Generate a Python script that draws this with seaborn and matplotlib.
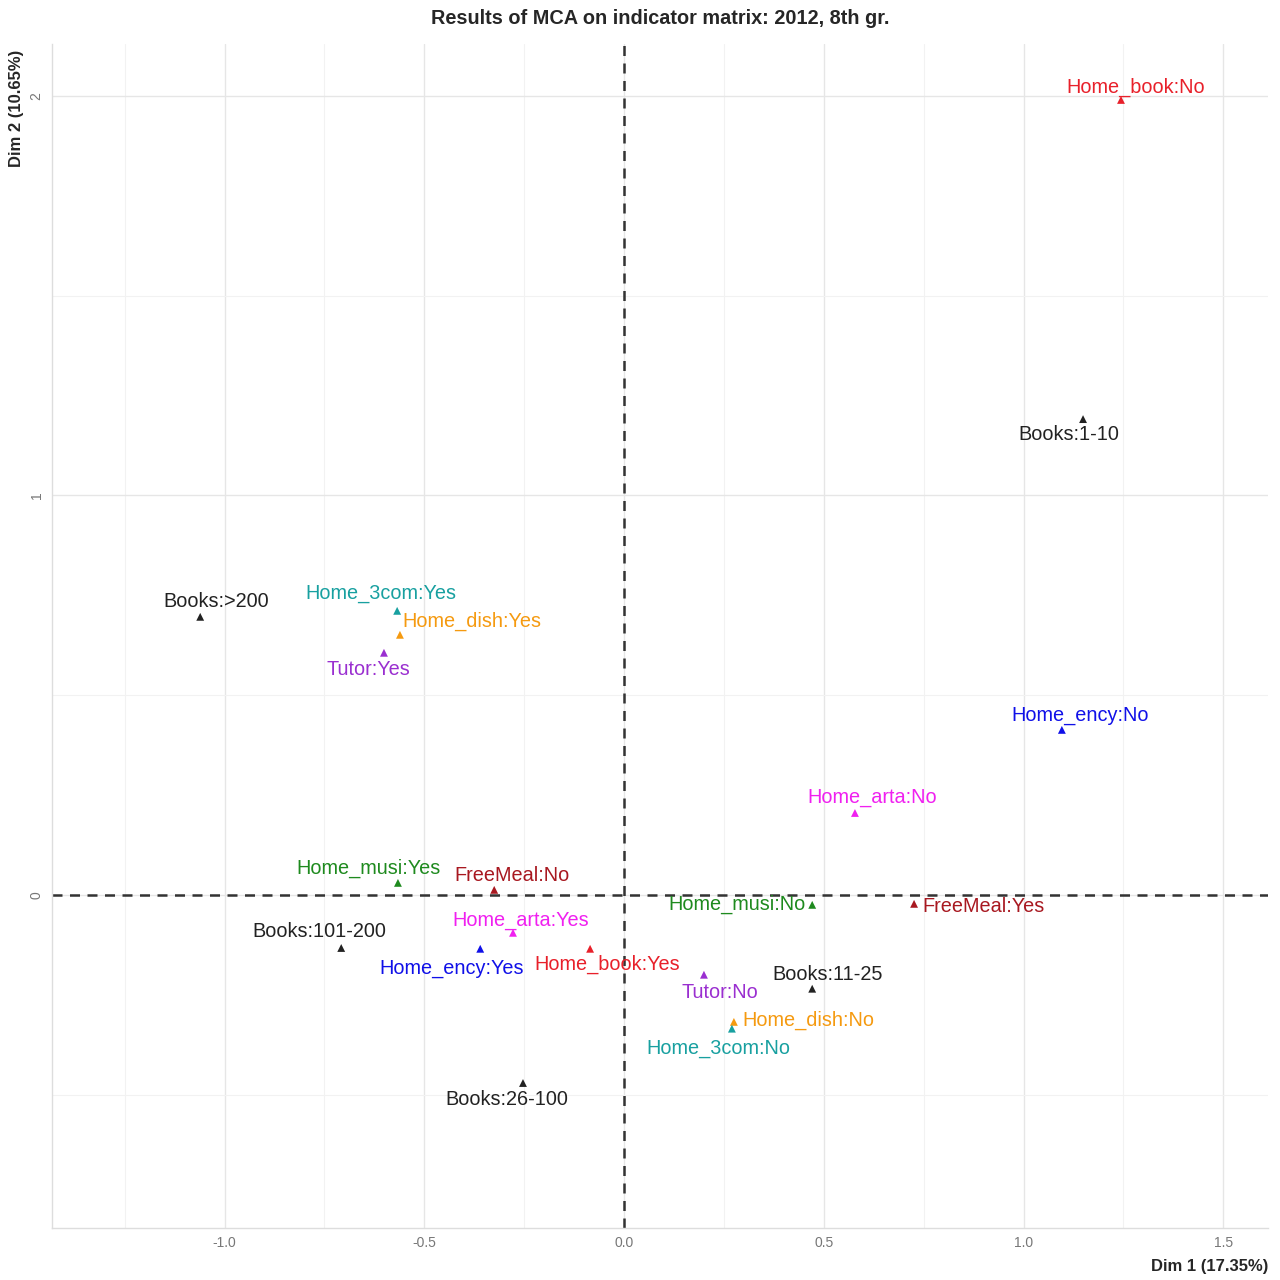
import matplotlib
matplotlib.use("Agg")
import matplotlib.pyplot as plt
import seaborn as sns
import pandas as pd

labels = ["Home_book:No", "Books:1-10", "Books:>200", "Home_3com:Yes", "Home_dish:Yes",
          "Tutor:Yes", "Home_ency:No", "Home_arta:No", "Home_musi:Yes", "FreeMeal:No",
          "Home_musi:No", "FreeMeal:Yes", "Books:101-200", "Home_arta:Yes", "Home_ency:Yes",
          "Home_book:Yes", "Tutor:No", "Books:11-25", "Home_dish:No", "Home_3com:No",
          "Books:26-100"]
dim1 = [1.244, 1.149, -1.061, -0.568, -0.561, -0.601, 1.096, 0.578, -0.566, -0.325,
        0.471, 0.726, -0.708, -0.278, -0.360, -0.085, 0.200, 0.471, 0.275, 0.270, -0.253]
dim2 = [1.990, 1.191, 0.696, 0.711, 0.651, 0.606, 0.413, 0.205, 0.030, 0.0125,
        -0.025, -0.0225, -0.133, -0.095, -0.135, -0.135, -0.200, -0.235, -0.318, -0.335, -0.471]
variables = ["Home_book", "Books", "Books", "Home_3com", "Home_dish", "Tutor", "Home_ency",
             "Home_arta", "Home_musi", "FreeMeal", "Home_musi", "FreeMeal", "Books",
             "Home_arta", "Home_ency", "Home_book", "Tutor", "Books", "Home_dish",
             "Home_3com", "Books"]

palette = {"Home_book": "#E8202A", "Books": "#222222", "Home_3com": "#18A0A0",
           "Home_dish": "#F59A10", "Tutor": "#9A2FD0", "Home_ency": "#1010E8",
           "Home_arta": "#F020F0", "Home_musi": "#1E8A1E", "FreeMeal": "#A81820"}

# label offsets in pixels (dx, dy; dy positive = up)
label_offsets = [(15, 13), (-14, -15), (16, 15), (-16, 17), (72, 13), (-16, -17),
                 (18, 14), (17, 15), (-29, 14), (18, 14), (-75, 0), (69, -3),
                 (-22, 16), (8, 12), (-29, -20), (17, -16), (16, -18), (15, 14),
                 (74, 2), (-14, -20), (-16, -17)]

df = pd.DataFrame({"label": labels, "dim1": dim1, "dim2": dim2, "var": variables})

sns.set_theme(style="whitegrid")
plt.rcParams["font.family"] = ["Liberation Sans", "DejaVu Sans"]

fig = plt.figure(figsize=(12.8, 12.8), dpi=100)
ax = fig.add_axes([52 / 1280, 1 - 1228 / 1280, (1268 - 52) / 1280, (1228 - 44) / 1280])

ax.axhline(0, color="#333333", linestyle=(0, (4, 3)), linewidth=1.8, zorder=1)
ax.axvline(0, color="#333333", linestyle=(0, (4, 3)), linewidth=1.8, zorder=1)

sns.scatterplot(data=df, x="dim1", y="dim2", hue="var", palette=palette, marker="^",
                s=32, edgecolor="none", legend=False, ax=ax, zorder=3)

for lab, x, y, v, (dx, dy) in zip(labels, dim1, dim2, variables, label_offsets):
    ax.annotate(lab, (x, y), xytext=(dx * 0.72, dy * 0.72), textcoords="offset points",
                ha="center", va="center", fontsize=14.3, color=palette[v], zorder=4)

ax.set_xlim(-1.432, 1.612)
ax.set_ylim(-0.834, 2.13)
ax.set_xticks([-1.0, -0.5, 0.0, 0.5, 1.0, 1.5])
ax.set_xticklabels(["-1.0", "-0.5", "0.0", "0.5", "1.0", "1.5"])
ax.set_yticks([0, 1, 2])
ax.set_yticklabels(["0", "1", "2"], rotation=90, va="center")
ax.set_xticks([-1.25, -0.75, -0.25, 0.25, 0.75, 1.25], minor=True)
ax.set_yticks([-0.5, 0.5, 1.5], minor=True)
ax.grid(which="major", color="#E6E6E6", linewidth=1.0)
ax.grid(which="minor", color="#F2F2F2", linewidth=0.8)
ax.tick_params(axis="both", which="major", labelsize=10, labelcolor="#777777", length=0, pad=6)
ax.tick_params(axis="both", which="minor", length=0)

for side in ["top", "right"]:
    ax.spines[side].set_visible(False)
for side in ["left", "bottom"]:
    ax.spines[side].set_color("#DDDDDD")
    ax.spines[side].set_linewidth(1.0)

ax.set_xlabel("")
ax.set_ylabel("")
fig.text(1268 / 1280, 1 - 1266 / 1280, "Dim 1 (17.35%)", ha="right", va="center",
         fontsize=12, fontweight="bold")
fig.text(17 / 1280, 1 - 108 / 1280, "Dim 2 (10.65%)", ha="center", va="center",
         rotation=90, fontsize=12, fontweight="bold")
fig.text(660 / 1280, 1 - 19 / 1280, "Results of MCA on indicator matrix: 2012, 8th gr.",
         ha="center", va="center", fontsize=14.3, fontweight="bold")

fig.savefig("out.png", dpi=100, facecolor="white")
